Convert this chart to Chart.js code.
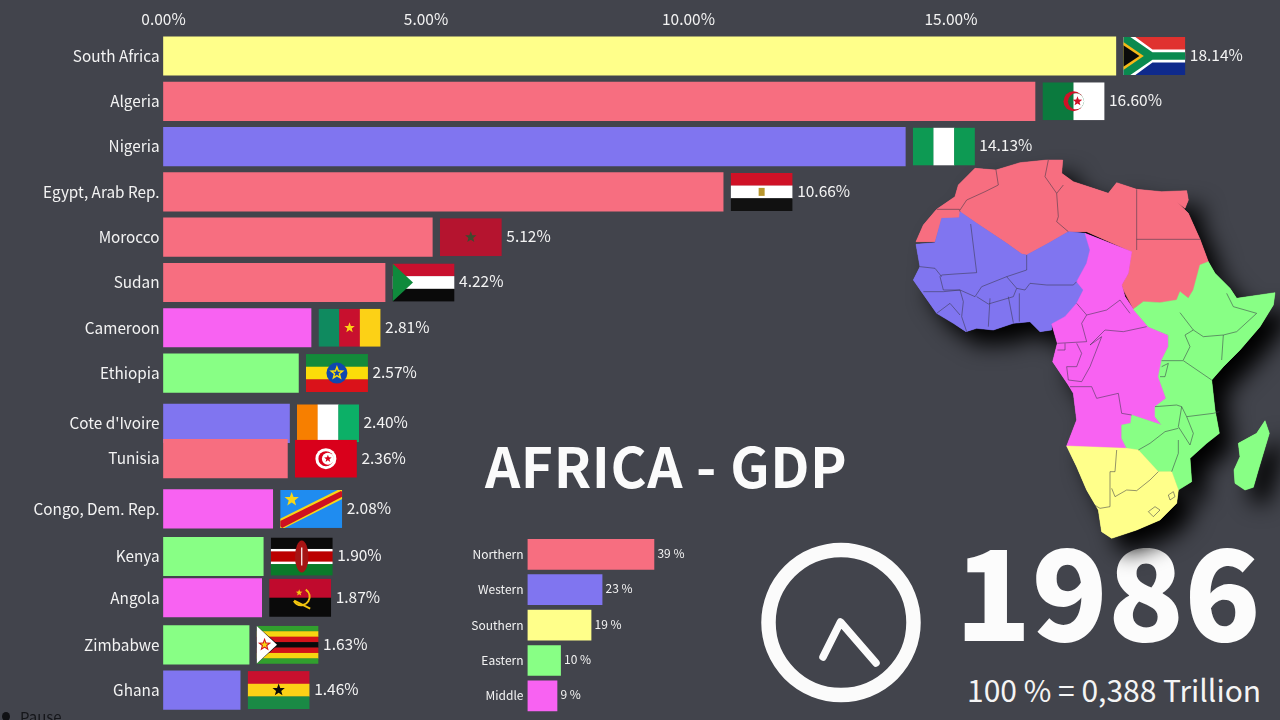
<!DOCTYPE html>
<html>
<head>
<meta charset="utf-8">
<title>Africa - GDP</title>
<script src="https://cdn.jsdelivr.net/npm/chart.js@4/dist/chart.umd.min.js"></script>
<style>
	html, body { margin: 0; width: 1280px; height: 720px; overflow: hidden; background: #42444c; }
	body, .txt { font-family: "Noto Sans CJK SC", "Noto Sans", sans-serif; }
	.txt { position: absolute; white-space: nowrap; line-height: 1; }
	#year { left: 955px; top: 524px; font-size: 125.5px; font-weight: 900; color: #fcfcfc; }
	#total { left: 967px; top: 674px; font-size: 30px; color: #f4f4f4; }
	#title { left: 485px; top: 437px; font-size: 55px; font-weight: 700; color: #fbfbfb; letter-spacing: 0.6px; }
	#pause { left: 20px; top: 709px; font-size: 15px; color: #15161a; }
	#dot { position: absolute; left: 2px; top: 712px; width: 8px; height: 9px; border-radius: 50%; background: #101114; }
	#mainChart { position: absolute; left: 0; top: 0; }
	#regionBox { position: absolute; left: 460px; top: 530px; width: 240px; height: 190px; }
</style>
</head>
<body>
<div class="txt" id="year">1986</div>
<div class="txt" id="total">100 % = 0,388 Trillion</div>
<canvas id="mainChart" width="1280" height="720"></canvas>
<div class="txt" id="title">AFRICA - GDP</div>
<div class="txt" id="pause">Pause</div>
<div id="dot"></div>
<div id="regionBox"><canvas id="regionChart"></canvas></div>

<script>
// values
const countries = ['South Africa', 'Algeria', 'Nigeria', 'Egypt, Arab Rep.', 'Morocco', 'Sudan', 'Cameroon', 'Ethiopia',
	"Cote d'Ivoire", 'Tunisia', 'Congo, Dem. Rep.', 'Kenya', 'Angola', 'Zimbabwe', 'Ghana'];
const shares = [18.14, 16.60, 14.13, 10.66, 5.12, 4.22, 2.81, 2.57, 2.40, 2.36, 2.08, 1.90, 1.87, 1.63, 1.46];
// rank while the bars are swapping places, so not always a whole number
const ranks = [1, 2, 3, 4, 5, 6, 7, 8, 9.11, 9.89, 11, 12.05, 12.96, 14, 15];
const countryRegions = ['Southern', 'Northern', 'Western', 'Northern', 'Northern', 'Northern', 'Middle', 'Eastern',
	'Western', 'Northern', 'Middle', 'Eastern', 'Middle', 'Eastern', 'Western'];
const flagCodes = ['za', 'dz', 'ng', 'eg', 'ma', 'sd', 'cm', 'et', 'ci', 'tn', 'cd', 'ke', 'ao', 'zw', 'gh'];
const axisTicks = [0, 5, 10, 15];

const regionNames = ['Northern', 'Western', 'Southern', 'Eastern', 'Middle'];
const regionShares = [39, 23, 19.6, 10.2, 9.1];
const regionLabels = ['39 %', '23 %', '19 %', '10 %', '9 %'];

const colors = { Northern: '#f76e80', Western: '#8075f0', Southern: '#ffff8a', Eastern: '#88ff85', Middle: '#f862f2' };
const textColor = '#f3f3f3';
const fontFamily = '"Noto Sans CJK SC", "Noto Sans", sans-serif';

// map outlines, in a 3x grid laid over the top right of the picture
const mapShapes = [
	['Northern', [[168,275],[190,225],[230,178],[285,140],[295,105],[345,55],[408,60],[480,38],[560,30],[608,30],[605,70],[640,95],[700,115],[745,130],[770,98],[830,118],[905,125],[980,122],[985,150],[975,175],[950,155],[985,190],[1020,268],[1045,335],[1020,345],[1000,420],[985,445],[960,425],[950,450],[900,458],[850,455],[820,478],[790,420],[785,405],[805,370],[815,305],[680,245],[625,245],[565,280],[500,315],[485,312],[440,280],[350,220],[300,185],[298,203],[245,205],[225,275]]],
	['Western', [[168,283],[225,278],[245,205],[298,203],[300,185],[350,220],[440,280],[485,312],[500,315],[565,280],[625,245],[675,250],[690,300],[680,340],[650,395],[670,420],[650,460],[615,500],[575,522],[575,540],[540,545],[510,515],[460,520],[400,540],[350,535],[318,545],[280,520],[230,490],[195,440],[160,390],[180,350]]],
	['Middle', [[675,250],[815,305],[805,370],[785,405],[795,440],[820,478],[865,530],[925,555],[925,590],[905,630],[895,680],[918,745],[885,770],[885,800],[905,825],[815,795],[812,820],[785,825],[785,865],[800,895],[620,888],[650,810],[640,730],[625,705],[578,635],[592,580],[575,522],[615,500],[650,460],[670,420],[650,395],[680,340],[690,300]]],
	['Eastern', [[1045,335],[1065,370],[1110,415],[1130,445],[1245,428],[1240,465],[1200,530],[1140,600],[1090,650],[1055,690],[1065,780],[1078,850],[1040,880],[990,925],[995,995],[955,1020],[935,965],[895,965],[835,900],[800,895],[785,865],[785,825],[812,820],[815,795],[905,825],[885,800],[885,770],[918,745],[895,680],[905,630],[925,590],[925,555],[865,530],[820,478],[850,455],[900,458],[950,450],[960,425],[985,445],[1000,420],[1020,345]]],
	['Eastern', [[1215,812],[1228,850],[1195,960],[1180,1012],[1155,1020],[1125,1000],[1122,960],[1140,920],[1135,880],[1190,850]]],
	['Southern', [[620,888],[800,895],[835,900],[895,965],[935,965],[955,1020],[950,1060],[900,1110],[830,1140],[755,1165],[725,1145],[715,1080],[680,1020],[650,950]]]
];
const mapBorders = [
	[[230,178],[298,178],[300,185]], [[300,180],[320,150],[375,125],[415,105],[408,60]],
	[[565,30],[555,80],[590,130],[595,200],[590,215],[625,245]], [[590,130],[610,105]],
	[[830,118],[830,300]], [[830,268],[1020,268]],
	[[332,222],[350,368],[285,372],[245,375],[240,380]], [[500,315],[500,360],[440,380]],
	[[240,380],[250,420],[300,420],[345,440],[365,410],[440,380]],
	[[440,380],[470,415],[495,420],[510,400],[560,405],[640,405],[650,395]],
	[[350,440],[385,462],[460,440],[470,415]], [[390,445],[385,530]], [[445,440],[460,518]], [[478,430],[478,515]],
	[[180,350],[225,355],[245,380]], [[190,425],[250,425],[300,420],[310,455],[305,500],[320,545]], [[230,490],[270,460],[300,495]],
	[[650,460],[680,495],[740,480],[780,450],[810,490]], [[680,495],[665,520],[680,575],[592,580]],
	[[690,585],[735,540],[790,545],[860,530]], [[690,585],[725,560],[690,650],[665,695],[625,690]],
	[[592,600],[615,600],[615,580]], [[650,580],[665,610],[650,650],[620,650],[625,690]],
	[[630,710],[695,710],[710,745],[775,730],[785,790],[815,795]],
	[[960,488],[1000,540],[975,555]], [[1100,430],[1120,470],[1190,490],[1130,545],[1090,555],[1030,560],[1000,540]],
	[[1090,555],[1085,630]], [[975,555],[990,590],[970,630]], [[905,632],[970,632],[1055,690]],
	[[885,770],[950,765],[965,770],[980,800],[1060,790],[1078,785]], [[965,770],[955,830],[990,885],[1000,850],[980,800]],
	[[835,900],[870,880],[915,845],[955,835]], [[955,870],[955,910],[935,965]], [[905,650],[925,640],[915,680],[900,680]],
	[[770,900],[765,965],[750,965],[750,1070],[720,1075],[695,1060]], [[755,1015],[765,1040],[800,1020],[830,1022],[870,990],[895,965]],
	[[865,1085],[885,1070],[900,1080],[880,1100],[865,1085]], [[925,1035],[940,1025],[945,1040],[930,1050],[925,1035]]
];

function tracePolygon(ctx, pts) {
	ctx.beginPath();
	pts.forEach((p, i) => i ? ctx.lineTo(p[0], p[1]) : ctx.moveTo(p[0], p[1]));
}

function drawMap(ctx) {
	ctx.save();
	// soft shadow first, then the flat regions on top
	ctx.save();
	ctx.shadowColor = 'rgba(0,0,0,1)';
	ctx.shadowBlur = 22;
	ctx.shadowOffsetX = 15;
	ctx.shadowOffsetY = 15;
	mapShapes.forEach(s => {
		ctx.save();
		ctx.translate(860, 150);
		ctx.scale(1 / 3, 1 / 3);
		tracePolygon(ctx, s[1]);
		ctx.restore();
		ctx.fillStyle = colors[s[0]];
		ctx.fill();
	});
	ctx.restore();
	ctx.translate(860, 150);
	ctx.scale(1 / 3, 1 / 3);
	mapShapes.forEach(s => {
		tracePolygon(ctx, s[1]);
		ctx.closePath();
		ctx.fillStyle = colors[s[0]];
		ctx.fill();
		ctx.strokeStyle = colors[s[0]];
		ctx.lineWidth = 1.5;
		ctx.stroke();
	});
	ctx.strokeStyle = 'rgba(55,55,70,0.8)';
	ctx.lineWidth = 2;
	ctx.lineJoin = 'round';
	mapBorders.forEach(b => {
		tracePolygon(ctx, b);
		ctx.stroke();
	});
	ctx.restore();
}

function drawClock(ctx) {
	ctx.save();
	ctx.strokeStyle = '#fbfbfb';
	ctx.lineWidth = 14.5;
	ctx.beginPath();
	ctx.arc(841, 622.5, 72.5, 0, Math.PI * 2);
	ctx.stroke();
	ctx.lineWidth = 7.5;
	ctx.lineCap = 'round';
	ctx.lineJoin = 'round';
	ctx.beginPath();
	ctx.moveTo(823, 657);
	ctx.lineTo(840.5, 622);
	ctx.lineTo(876, 663);
	ctx.stroke();
	ctx.restore();
}

function star(ctx, cx, cy, r, color) {
	ctx.beginPath();
	for (let i = 0; i < 10; i++) {
		const a = -Math.PI / 2 + i * Math.PI / 5;
		const d = i % 2 ? r * 0.42 : r;
		ctx.lineTo(cx + Math.cos(a) * d, cy + Math.sin(a) * d);
	}
	ctx.closePath();
	ctx.fillStyle = color;
	ctx.fill();
}

function rect(ctx, color, x, y, w, h) {
	ctx.fillStyle = color;
	ctx.fillRect(x, y, w, h);
}

function poly(ctx, color, pts) {
	tracePolygon(ctx, pts);
	ctx.closePath();
	ctx.fillStyle = color;
	ctx.fill();
}

function hStripes(ctx, cols, w, h) {
	cols.forEach((c, i) => rect(ctx, c, 0, h * i / cols.length, w, h / cols.length + 0.3));
}

function vStripes(ctx, cols, w, h) {
	cols.forEach((c, i) => rect(ctx, c, w * i / cols.length, 0, w / cols.length + 0.3, h));
}

function disc(ctx, color, x, y, r) {
	ctx.beginPath();
	ctx.arc(x, y, r, 0, Math.PI * 2);
	ctx.fillStyle = color;
	ctx.fill();
}

const flags = {
	za(c, w, h) {
		rect(c, '#e0322f', 0, 0, w, h / 2);
		rect(c, '#0f2a8c', 0, h / 2, w, h / 2);
		poly(c, '#ffffff', [[0, 0], [12, 0], [w * 0.47, h * 0.33], [w, h * 0.33], [w, h * 0.67], [w * 0.47, h * 0.67], [12, h], [0, h]]);
		poly(c, '#0a8a4f', [[0, 0], [7, 0], [w * 0.47, h * 0.4], [w, h * 0.4], [w, h * 0.6], [w * 0.47, h * 0.6], [7, h], [0, h]]);
		poly(c, '#f7b818', [[0, h * 0.13], [w * 0.33, h / 2], [0, h * 0.87]]);
		poly(c, '#0a0a0a', [[0, h * 0.22], [w * 0.26, h / 2], [0, h * 0.78]]);
	},
	dz(c, w, h) {
		vStripes(c, ['#0b7a3e', '#ffffff'], w, h);
		disc(c, '#cf1126', w / 2, h / 2, 10);
		disc(c, '#0b7a3e', w / 2 + 2.5, h / 2, 8);
		c.save();
		c.beginPath();
		c.rect(w / 2, 0, w / 2, h);
		c.clip();
		disc(c, '#ffffff', w / 2 + 2.5, h / 2, 8);
		c.restore();
		star(c, w / 2 + 4, h / 2, 5, '#cf1126');
	},
	ng(c, w, h) { vStripes(c, ['#0d9a53', '#ffffff', '#0d9a53'], w, h); },
	eg(c, w, h) {
		hStripes(c, ['#cf1126', '#ffffff', '#111111'], w, h);
		rect(c, '#b8962e', w / 2 - 3, h / 2 - 4, 6, 8);
	},
	ma(c, w, h) {
		rect(c, '#b5142f', 0, 0, w, h);
		star(c, w / 2, h / 2, 6, '#3f4a2e');
	},
	sd(c, w, h) {
		hStripes(c, ['#c8102e', '#ffffff', '#0a0a0a'], w, h);
		poly(c, '#0f8a3c', [[0, 0], [w * 0.33, h / 2], [0, h]]);
	},
	cm(c, w, h) {
		vStripes(c, ['#0f8a5f', '#c8102e', '#fcd116'], w, h);
		star(c, w / 2, h / 2, 5.5, '#fcd116');
	},
	et(c, w, h) {
		hStripes(c, ['#138a3a', '#fcdd09', '#da121a'], w, h);
		disc(c, '#0f47af', w / 2, h / 2, 10.5);
		star(c, w / 2, h / 2, 8, '#fcdd09');
		star(c, w / 2, h / 2, 4, '#0f47af');
	},
	ci(c, w, h) { vStripes(c, ['#f77f00', '#ffffff', '#0cb067'], w, h); },
	tn(c, w, h) {
		rect(c, '#d9001b', 0, 0, w, h);
		disc(c, '#ffffff', w / 2, h / 2, 10.5);
		disc(c, '#d9001b', w / 2, h / 2, 7.5);
		disc(c, '#ffffff', w / 2 + 2, h / 2, 6);
		star(c, w / 2 + 2, h / 2, 4, '#d9001b');
	},
	cd(c, w, h) {
		rect(c, '#1f8cf0', 0, 0, w, h);
		poly(c, '#f7d618', [[0, h], [0, h * 0.76], [w * 0.93, 0], [w, 0], [w, h * 0.24], [w * 0.07, h]]);
		poly(c, '#ce1021', [[0, h * 0.95], [0, h * 0.82], [w * 0.98, h * 0.03], [w, h * 0.05], [w, h * 0.18], [w * 0.03, h]]);
		star(c, 11.5, 9.5, 7.5, '#f7d618');
	},
	ke(c, w, h) {
		hStripes(c, ['#0a0a0a', '#bb0000', '#0a7a2a'], w, h);
		rect(c, '#ffffff', 0, h / 3 - 1.2, w, 2.4);
		rect(c, '#ffffff', 0, h * 2 / 3 - 1.2, w, 2.4);
		c.save();
		c.translate(w / 2, h / 2);
		c.scale(0.42, 1);
		disc(c, '#a51414', 0, 0, 16);
		c.restore();
		rect(c, '#ffffff', w / 2 - 0.6, h / 2 - 9, 1.2, 18);
	},
	ao(c, w, h) {
		hStripes(c, ['#c00a2d', '#0a0a0a'], w, h);
		c.strokeStyle = '#f2c40f';
		c.lineWidth = 2;
		c.beginPath();
		c.arc(w / 2 + 1, h / 2 - 1, 8.5, -1.0, 2.6);
		c.stroke();
		star(c, w / 2 - 1, h / 2 - 5, 3.5, '#f2c40f');
		c.beginPath();
		c.moveTo(w / 2 - 6, h / 2 + 3);
		c.lineTo(w / 2 + 10, h / 2 + 11);
		c.stroke();
	},
	zw(c, w, h) {
		hStripes(c, ['#319f2e', '#f7d511', '#d2131a', '#0a0a0a', '#d2131a', '#f7d511', '#319f2e'], w, h);
		poly(c, '#0a0a0a', [[0, 0], [w * 0.35, h / 2], [0, h]]);
		poly(c, '#ffffff', [[0, 0], [w * 0.33, h / 2], [0, h]]);
		star(c, 8, h / 2, 7, '#d2131a');
		star(c, 8, h / 2, 4, '#f7d511');
	},
	gh(c, w, h) {
		hStripes(c, ['#c8102e', '#fcd116', '#1a8a45'], w, h);
		star(c, w / 2, h / 2, 6.5, '#0a0a0a');
	}
};

const africaBackdrop = {
	id: 'africaBackdrop',
	beforeDatasetsDraw(chart) {
		drawMap(chart.ctx);
		drawClock(chart.ctx);
	}
};

// flag and value at the end of each bar, positions come from the bar elements
const barEnds = {
	id: 'barEnds',
	afterDatasetsDraw(chart) {
		const ctx = chart.ctx;
		chart.getDatasetMeta(0).data.forEach((bar, i) => {
			const flagW = 62, flagH = 38;
			const x = bar.x + 7.5, y = bar.y - flagH / 2;
			ctx.save();
			ctx.translate(x, y);
			ctx.beginPath();
			ctx.rect(0, 0, flagW, flagH);
			ctx.clip();
			flags[flagCodes[i]](ctx, flagW, flagH);
			ctx.restore();
			ctx.save();
			ctx.font = '15.5px ' + fontFamily;
			ctx.fillStyle = textColor;
			ctx.textAlign = 'left';
			ctx.textBaseline = 'middle';
			ctx.fillText(shares[i].toFixed(2) + '%', x + flagW + 4.5, bar.y - 1);
			ctx.restore();
		});
	}
};

const regionEnds = {
	id: 'regionEnds',
	afterDatasetsDraw(chart) {
		const ctx = chart.ctx;
		chart.getDatasetMeta(0).data.forEach((bar, i) => {
			ctx.save();
			ctx.font = '12px ' + fontFamily;
			ctx.fillStyle = textColor;
			ctx.textBaseline = 'middle';
			ctx.fillText(regionLabels[i], bar.x + 3.5, bar.y - 1);
			ctx.restore();
		});
	}
};

Chart.defaults.font.family = fontFamily;
Chart.defaults.color = textColor;
Chart.defaults.animation = false;

new Chart(document.getElementById('mainChart'), {
	type: 'bar',
	plugins: [africaBackdrop, barEnds],
	data: {
		datasets: [{
			data: shares.map((s, i) => ({ x: s, y: ranks[i] })),
			backgroundColor: countryRegions.map(r => colors[r]),
			barThickness: 38.5,
			borderWidth: 0,
			clip: false
		}]
	},
	options: {
		responsive: false,
		indexAxis: 'y',
		layout: { padding: 0 },
		plugins: { legend: { display: false }, tooltip: { enabled: false } },
		scales: {
			x: {
				type: 'linear',
				position: 'top',
				min: 0,
				max: 21.267,
				grid: { display: false, drawTicks: false },
				border: { display: false },
				afterBuildTicks: scale => { scale.ticks = axisTicks.map(v => ({ value: v })); },
				afterFit: scale => { scale.height = 33; scale.paddingLeft = 0; scale.paddingRight = 0; },
				ticks: {
					font: { size: 15.5 },
					color: textColor,
					padding: 5,
					maxRotation: 0,
					callback: v => v.toFixed(2) + '%'
				}
			},
			y: {
				type: 'linear',
				reverse: true,
				offset: false,
				min: 0.492,
				max: 15.66,
				grid: { display: false, drawTicks: false },
				border: { display: false },
				afterBuildTicks: scale => { scale.ticks = ranks.map(v => ({ value: v })); },
				afterFit: scale => { scale.width = 163.5; scale.paddingTop = 0; scale.paddingBottom = 0; },
				ticks: {
					font: { size: 15.3 },
					color: textColor,
					padding: 4,
					autoSkip: false,
					callback: v => countries[ranks.indexOf(v)]
				}
			}
		}
	}
});

new Chart(document.getElementById('regionChart'), {
	type: 'bar',
	plugins: [regionEnds],
	data: {
		labels: regionNames,
		datasets: [{
			data: regionShares,
			backgroundColor: regionNames.map(r => colors[r]),
			barThickness: 30,
			borderWidth: 0
		}]
	},
	options: {
		responsive: true,
		maintainAspectRatio: false,
		indexAxis: 'y',
		layout: { padding: { top: 6.6, bottom: 6.4 } },
		plugins: { legend: { display: false }, tooltip: { enabled: false } },
		scales: {
			x: { display: false, min: 0, max: 53.2 },
			y: {
				grid: { display: false, drawTicks: false },
				border: { display: false },
				afterFit: scale => { scale.width = 67.5; scale.paddingTop = 0; scale.paddingBottom = 0; },
				ticks: { font: { size: 12 }, color: textColor, padding: 4 }
			}
		}
	}
});
</script>
</body>
</html>
